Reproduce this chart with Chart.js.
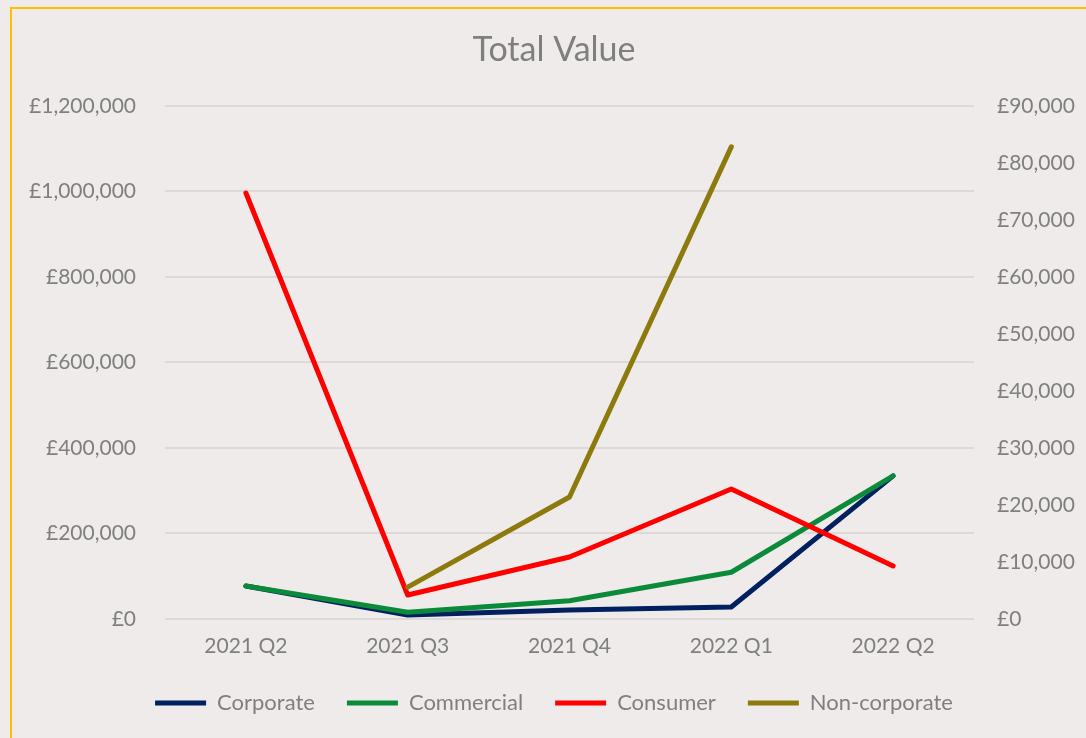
<!DOCTYPE html>
<html>
  <head>
    <meta charset="utf-8" />
    <title>Total Value</title>
    <script src="https://cdn.jsdelivr.net/npm/chart.js"></script>
    <style>
      html, body { margin: 0; padding: 0; background: #efebea; overflow: hidden; }
      #wrap { position: relative; width: 1086px; height: 738px; }
      #frame { position: absolute; left: 10px; top: 7px; width: 1100px; height: 760px;
               border-left: 2px solid #ffc000; border-top: 2px solid #ffc000; box-sizing: border-box; pointer-events: none; }
    </style>
  </head>
  <body>
    <div id="wrap">
      <canvas id="valueChart" width="1086" height="738"></canvas>
      <div id="frame"></div>
    </div>
    <script type="text/javascript">
      // quarters on the x axis
      var quarters = ['2021 Q2', '2021 Q3', '2021 Q4', '2022 Q1', '2022 Q2']

      // consumer is on the left axis, the rest on the right axis
      var consumer = [996000, 56000, 145000, 304000, 124000]
      var corporate = [5800, 700, 1600, 2100, 25100]
      var commercial = [5800, 1200, 3200, 8200, 25100]
      var nonCorporate = [null, 5600, 21400, 82800, null]

      var grey = '#7f7f7f'
      var font = 'Lato'

      function pounds(v) {
        return '£' + Number(v).toLocaleString('en-GB')
      }

      function series(label, data, colour, axis, order) {
        return {
          label: label,
          data: data,
          yAxisID: axis,
          order: order,
          borderColor: colour,
          backgroundColor: colour,
          borderWidth: 5,
          borderCapStyle: 'round',
          borderJoinStyle: 'round',
          pointRadius: 0,
          pointHoverRadius: 0,
          tension: 0,
          fill: false
        }
      }

      var ctx = document.getElementById('valueChart').getContext('2d')
      new Chart(ctx, {
        type: 'line',
        data: {
          labels: quarters,
          datasets: [
            series('Corporate', corporate, '#002060', 'y1', 4),
            series('Commercial', commercial, '#0b8a3a', 'y1', 3),
            series('Consumer', consumer, '#ff0000', 'y', 2),
            series('Non-corporate', nonCorporate, '#8c7a0c', 'y1', 1)
          ]
        },
        options: {
          responsive: false,
          animation: false,
          layout: { padding: { top: 0, bottom: 14, left: 22, right: 0 } },
          plugins: {
            title: {
              display: true,
              text: 'Total Value',
              color: grey,
              font: { family: font, size: 34, weight: 'normal' },
              padding: { top: 30, bottom: 35 }
            },
            legend: {
              position: 'bottom',
              labels: {
                usePointStyle: true,
                pointStyle: 'line',
                pointStyleWidth: 51,
                boxHeight: 22,
                color: grey,
                font: { family: font, size: 22 },
                padding: 32,
                sort: function(a, b) { return a.datasetIndex - b.datasetIndex }
              }
            },
            tooltip: { enabled: false }
          },
          scales: {
            x: {
              offset: true,
              grid: { display: false },
              border: { display: false },
              ticks: { color: grey, font: { family: font, size: 21 }, padding: 7 },
              afterFit: function(scale) { scale.height = 41 }
            },
            y: {
              position: 'left',
              min: 0,
              max: 1200000,
              grid: { color: '#dcd9d8', lineWidth: 2, drawTicks: false },
              border: { display: false },
              ticks: { stepSize: 200000, color: grey, font: { family: font, size: 21 }, padding: 29, callback: pounds },
              afterFit: function(scale) { scale.width = 143 }
            },
            y1: {
              position: 'right',
              min: 0,
              max: 90000,
              grid: { display: false, drawTicks: false },
              border: { display: false },
              ticks: { stepSize: 10000, color: grey, font: { family: font, size: 21 }, padding: 23, callback: pounds },
              afterFit: function(scale) { scale.width = 112 }
            }
          }
        }
      })
    </script>
  </body>
</html>
